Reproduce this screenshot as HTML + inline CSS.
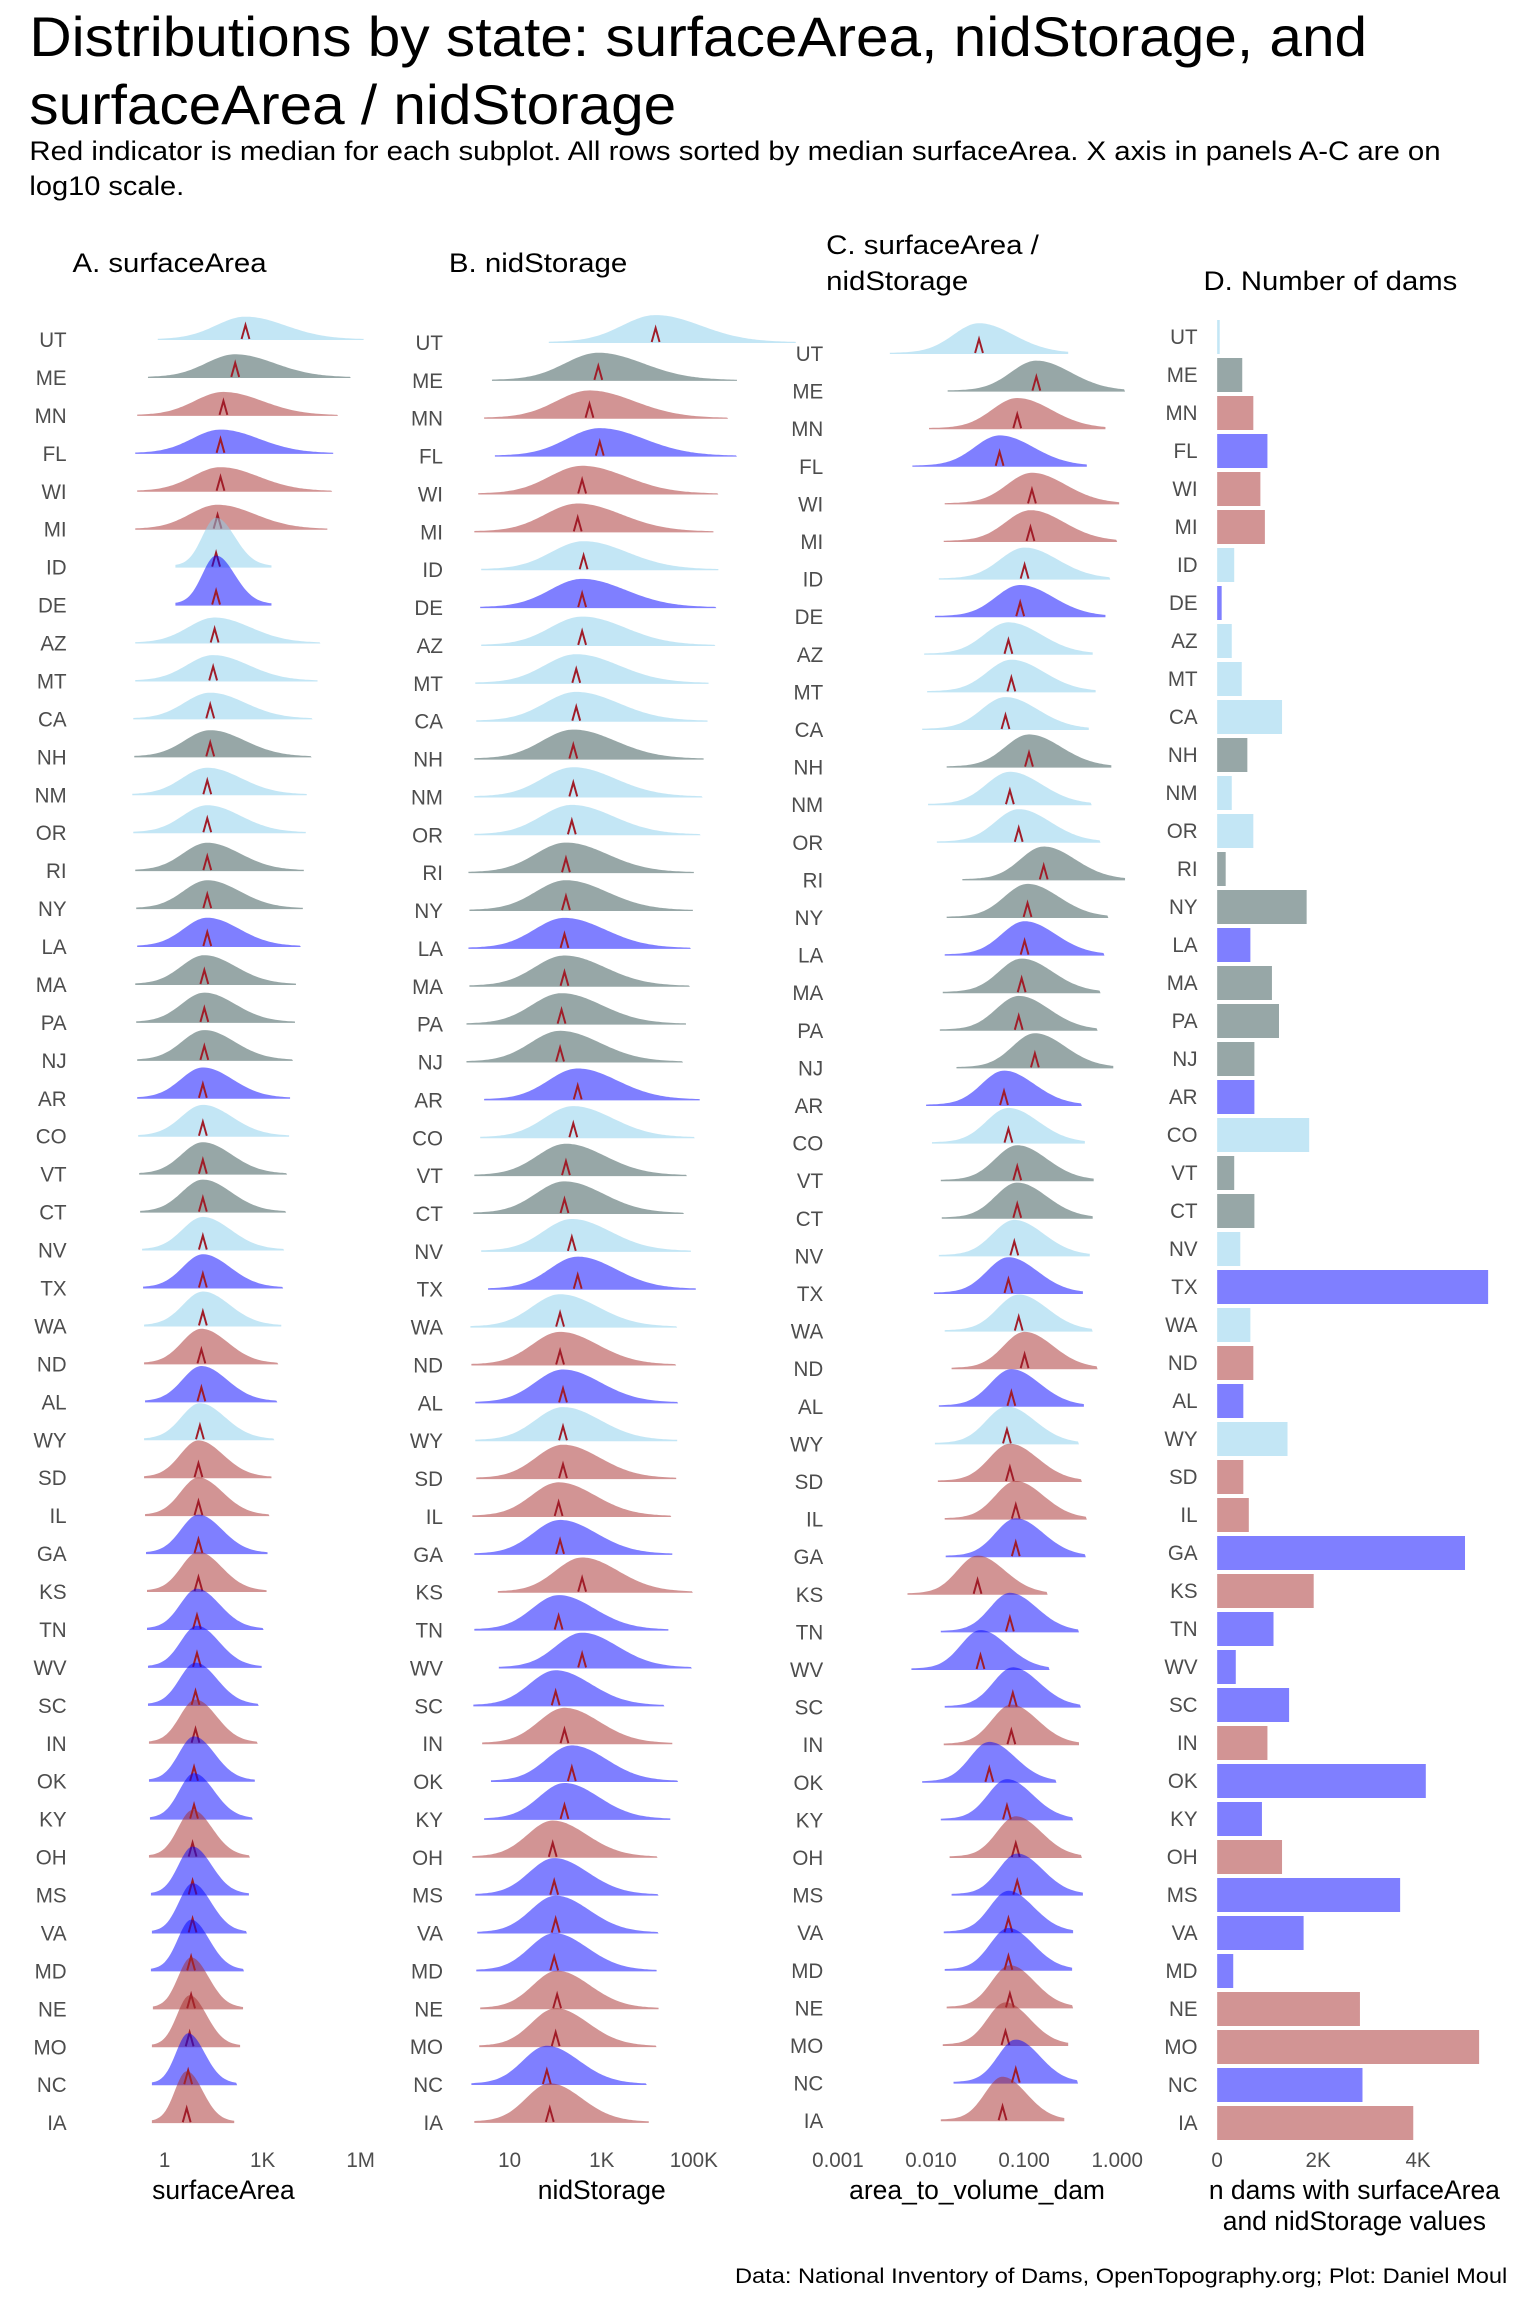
<!DOCTYPE html>
<html><head><meta charset="utf-8">
<style>
html,body{margin:0;padding:0;background:#fff;}
svg{display:block;font-family:"Liberation Sans",Arial,sans-serif;}
</style></head>
<body>
<svg id="s" width="1536" height="2304" viewBox="0 0 1536 2304" xmlns="http://www.w3.org/2000/svg">
<rect width="1536" height="2304" fill="#fff"/>
<g transform="scale(0.98,1)">
<text x="30" y="56" font-size="56" textLength="1365" lengthAdjust="spacingAndGlyphs">Distributions by state: surfaceArea, nidStorage, and</text>
<text x="30" y="124" font-size="56" textLength="660" lengthAdjust="spacingAndGlyphs">surfaceArea / nidStorage</text>
<text x="30" y="160" font-size="27" textLength="1440" lengthAdjust="spacingAndGlyphs">Red indicator is median for each subplot. All rows sorted by median surfaceArea. X axis in panels A-C are on</text>
<text x="30" y="195" font-size="27" textLength="158" lengthAdjust="spacingAndGlyphs">log10 scale.</text>
<text x="74" y="272" font-size="27" textLength="198" lengthAdjust="spacingAndGlyphs">A. surfaceArea</text>
<text x="458" y="272" font-size="27" textLength="182" lengthAdjust="spacingAndGlyphs">B. nidStorage</text>
<text x="843" y="254" font-size="27" textLength="217" lengthAdjust="spacingAndGlyphs">C. surfaceArea /</text>
<text x="843" y="290" font-size="27" textLength="145" lengthAdjust="spacingAndGlyphs">nidStorage</text>
<text x="1228" y="290" font-size="27" textLength="259" lengthAdjust="spacingAndGlyphs">D. Number of dams</text>
<g id="g"></g>
<g font-size="21" fill="#4d4d4d" text-anchor="middle">
<text x="168" y="2167">1</text><text x="268" y="2167">1K</text><text x="368" y="2167">1M</text>
<text x="520" y="2167">10</text><text x="614" y="2167">1K</text><text x="708" y="2167">100K</text>
<text x="855" y="2167">0.001</text><text x="950" y="2167">0.010</text><text x="1045" y="2167">0.100</text><text x="1140" y="2167">1.000</text>
<text x="1242" y="2167">0</text><text x="1345" y="2167">2K</text><text x="1447" y="2167">4K</text>
</g>
<g font-size="27" text-anchor="middle">
<text x="228" y="2199">surfaceArea</text>
<text x="614" y="2199">nidStorage</text>
<text x="997" y="2199">area_to_volume_dam</text>
<text x="1382" y="2199">n dams with surfaceArea</text>
<text x="1382" y="2230">and nidStorage values</text>
</g>
<text x="1538" y="2283" font-size="21" text-anchor="end" textLength="788" lengthAdjust="spacingAndGlyphs">Data: National Inventory of Dams, OpenTopography.org; Plot: Daniel Moul</text>
</g>
</svg>
<script>
var C={L:"#87ceeb",G:"#2f4f4f",R:"#a52a2a",B:"#0000ff"};
var rows=[
["UT","L",167,446,666,0.05],["ME","G",160,407,705,0.5],["MN","R",152,401,692,0.72],["FL","B",150,408,680,1.0],
["WI","R",150,396,702,0.86],["MI","R",148,393,701,0.95],["ID","L",147,397,697,0.34],["DE","B",147,396,694,0.09],
["AZ","L",146,396,686,0.29],["MT","L",145,392,688,0.49],["CA","L",143,392,684,1.29],["NH","G",143,390,700,0.6],
["NM","L",141,390,687,0.29],["OR","L",141,389,693,0.72],["RI","G",141,385,710,0.17],["NY","G",141,385,699,1.78],
["LA","B",141,384,697,0.66],["MA","G",139,384,695,1.09],["PA","G",139,382,693,1.23],["NJ","G",139,381,704,0.74],
["AR","B",138,393,683,0.74],["CO","L",138,390,686,1.83],["VT","G",138,385,692,0.34],["CT","G",138,384,692,0.74],
["NV","L",138,389,690,0.46],["TX","B",138,393,686,5.39],["WA","L",138,381,693,0.66],["ND","R",137,381,697,0.72],
["AL","B",137,383,688,0.52],["WY","L",136,383,685,1.4],["SD","R",135,383,687,0.52],["IL","R",135,380,691,0.63],
["GA","B",135,381,691,4.93],["KS","R",135,396,665,1.92],["TN","B",134,380,687,1.12],["WV","B",134,396,667,0.37],
["SC","B",133,378,689,1.43],["IN","R",133,384,688,1.0],["OK","B",132,389,673,4.15],["KY","B",132,384,685,0.89],
["OH","R",131,376,691,1.29],["MS","B",131,377,692,3.64],["VA","B",131,378,686,1.72],["MD","B",130,377,686,0.32],
["NE","R",130,379,687,2.84],["MO","R",129,378,684,5.21],["NC","B",128,372,691,2.89],["IA","R",127,374,682,3.9]];
var n=rows.length,out=[];
function ridge(m,sl,sr,h,y,lo,hi,col){
  var d="M"+lo+","+y;
  for(var x=lo;x<=hi;x+=2){var z=(x-m)/(x<m?sl:sr);var f=Math.exp(-0.5*z*z)+0.06*Math.exp(-0.5*Math.pow((x-m)/(sr*3),2));
    d+=" L"+x+","+(y-h*f/1.06).toFixed(1);}
  d+=" L"+hi+","+y+" Z";
  return '<path d="'+d+'" fill="'+C[col]+'" fill-opacity="0.5"/>';
}
function mark(x,y){return '<path d="M'+(x-4)+','+(y-2)+' L'+x+','+(y-16)+' L'+(x+4)+','+(y-2)+'" fill="none" stroke="#a01c28" stroke-width="2"/>';}
var P=[{y0:340,st:37.94,lx:68,k:2},{y0:343,st:37.87,lx:452,k:3},{y0:354,st:37.6,lx:840,k:4}];
for(var p=0;p<3;p++){var Q=P[p];
 for(var i=0;i<n;i++){var r=rows[i];var y=Q.y0+Q.st*i;
  out.push('<text x="'+Q.lx+'" y="'+(y+7)+'" font-size="21" fill="#4d4d4d" text-anchor="end">'+r[0]+'</text>');}
 for(var i=0;i<n;i++){var r=rows[i];var y=Q.y0+Q.st*i;var m=r[Q.k]*1.5;var t=i/(n-1);var s,h,lo,hi;
  if(p==0){s=30-18*t;if(r[0]=="ID"||r[0]=="DE")s=14;h=Math.min(52,700/s);lo=m-s*3;hi=m+s*4;}
  else if(p==1){s=34-10*t;h=Math.min(55,950/s);lo=m-s*3.2;hi=m+s*4.2;}
  else{s=26-8*t;h=Math.min(55,800/s);lo=m-s*3.5;hi=m+s*3.5;}
  out.push(ridge(m,s,s*1.35,h,y,Math.round(lo),Math.round(hi),r[1]));
  out.push(mark(m,y+1));}
}
for(var i=0;i<n;i++){var r=rows[i];var y=337+38*i;
 out.push('<text x="1222" y="'+(y+7)+'" font-size="21" fill="#4d4d4d" text-anchor="end">'+r[0]+'</text>');
 out.push('<rect x="1242" y="'+(y-17)+'" width="'+(r[5]*51.3).toFixed(1)+'" height="34" fill="'+C[r[1]]+'" fill-opacity="0.5"/>');}
document.getElementById("g").innerHTML=out.join("");
</script>
</body></html>
